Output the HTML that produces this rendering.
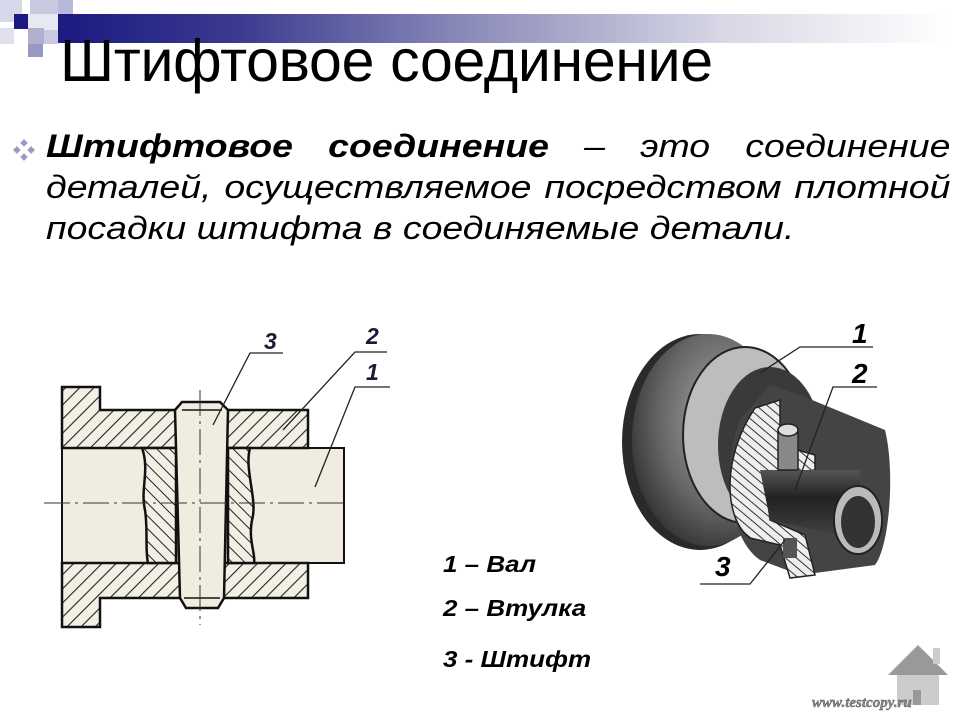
<!DOCTYPE html>
<html><head><meta charset="utf-8">
<style>
html,body{margin:0;padding:0;background:#fff;}
body{width:960px;height:720px;position:relative;overflow:hidden;font-family:"Liberation Sans","DejaVu Sans",sans-serif;}
.bar{position:absolute;left:58px;top:14px;width:890px;height:29px;background:linear-gradient(90deg,#1a1a80 0%,#3a3a90 20%,#8888b8 45%,#d8d8e6 75%,#fff 100%);}
.sq{position:absolute;}
.title{position:absolute;left:60px;top:27px;font-size:59px;color:#000;letter-spacing:-0.3px;white-space:nowrap;}
.body{position:absolute;left:46px;top:126px;width:773px;font-size:32px;font-style:italic;line-height:41px;color:#000;transform:scaleX(1.17);transform-origin:0 0;}
.body div{white-space:nowrap;}
.j{text-align:justify;text-align-last:justify;white-space:normal!important;}
.legend{position:absolute;left:443px;font-size:23px;font-weight:bold;font-style:italic;color:#000;white-space:nowrap;transform:scaleX(1.13);transform-origin:0 0;}
</style></head><body>
<div class="bar"></div>
<div class="sq" style="left:0;top:0;width:22px;height:22px;background:#d8d8ea"></div>
<div class="sq" style="left:30px;top:0;width:28px;height:14px;background:#c8c8e0"></div>
<div class="sq" style="left:58px;top:0;width:15px;height:14px;background:#b8b8d8"></div>
<div class="sq" style="left:14px;top:14px;width:14px;height:15px;background:#1a1a80"></div>
<div class="sq" style="left:28px;top:14px;width:30px;height:16px;background:#e8e8f2"></div>
<div class="sq" style="left:0;top:28px;width:14px;height:16px;background:#e0e0ee"></div>
<div class="sq" style="left:28px;top:28px;width:16px;height:16px;background:#b0b0d0"></div>
<div class="sq" style="left:44px;top:30px;width:14px;height:14px;background:#c8c8e0"></div>
<div class="sq" style="left:28px;top:44px;width:15px;height:13px;background:#9898c4"></div>
<div class="title">Штифтовое соединение</div>
<svg style="position:absolute;left:12px;top:138px" width="24" height="24" viewBox="0 0 22 22">
<g fill="#9c98c8"><polygon points="11,1 14.5,4.5 11,8 7.5,4.5"/><polygon points="4.5,7.5 8,11 4.5,14.5 1,11"/><polygon points="17.5,7.5 21,11 17.5,14.5 14,11"/><polygon points="11,14 14.5,17.5 11,21 7.5,17.5"/></g></svg>
<div class="body">
<div class="j"><b>Штифтовое соединение</b> – это соединение</div>
<div class="j">деталей, осуществляемое посредством плотной</div>
<div>посадки штифта в соединяемые детали.</div>
</div>

<svg style="position:absolute;left:0;top:0" width="960" height="720">
<defs>
<pattern id="h" width="10" height="10" patternUnits="userSpaceOnUse" patternTransform="rotate(45)"><rect width="10" height="10" fill="#f4efe4"/><line x1="0" y1="0" x2="0" y2="10" stroke="#222" stroke-width="2.2"/></pattern>
<pattern id="h2" width="9" height="9" patternUnits="userSpaceOnUse" patternTransform="rotate(-45)"><rect width="9" height="9" fill="#f4efe4"/><line x1="0" y1="0" x2="0" y2="9" stroke="#222" stroke-width="2"/></pattern>
<pattern id="h3" width="7" height="7" patternUnits="userSpaceOnUse" patternTransform="rotate(-50)"><rect width="7" height="7" fill="#eee"/><line x1="0" y1="0" x2="0" y2="7" stroke="#333" stroke-width="2"/></pattern>
<radialGradient id="g1" cx="0.6" cy="0.4" r="0.7"><stop offset="0" stop-color="#aaa"/><stop offset="0.6" stop-color="#666"/><stop offset="1" stop-color="#2a2a2a"/></radialGradient>
<linearGradient id="g2" x1="0" y1="0" x2="0" y2="1"><stop offset="0" stop-color="#555"/><stop offset="0.4" stop-color="#222"/><stop offset="1" stop-color="#444"/></linearGradient>
</defs>
<g stroke="#111" stroke-width="2.5">
<rect x="62" y="448" width="282" height="115" fill="#f1ece0" stroke-width="2"/>
<path d="M62,387 H100 V410 H308 V448 H62 Z" fill="url(#h)"/>
<path d="M62,563 H308 V598 H100 V627 H62 Z" fill="url(#h)"/>
<path d="M142,448 C150,470 140,490 145,510 C148,530 145,550 148,563 H176 V448 Z" fill="url(#h2)"/>
<path d="M228,448 H250 C244,470 258,500 252,520 C248,540 256,555 254,563 H228 Z" fill="url(#h2)"/>
<path d="M182,402 H220 L228,410 L224,598 L218,608 H186 L180,598 L175,410 Z" fill="#f1ece0"/>
</g>
<line x1="182" y1="410" x2="222" y2="410" stroke="#111" stroke-width="1.5"/>
<line x1="184" y1="598" x2="220" y2="598" stroke="#111" stroke-width="1.5"/>
<line x1="44" y1="503" x2="348" y2="503" stroke="#333" stroke-width="1" stroke-dasharray="26,5,3,5"/>
<line x1="200" y1="390" x2="200" y2="625" stroke="#333" stroke-width="1" stroke-dasharray="26,5,3,5"/>
<g stroke="#222" stroke-width="1.3" fill="none">
<polyline points="283,353 250,353 213,425"/>
<polyline points="387,352 355,352 283,430"/>
<polyline points="390,387 355,387 315,487"/>
</g>
<g font-family="Liberation Sans,sans-serif" font-weight="bold" font-style="italic" font-size="23" fill="#1a1a3a">
<text x="264" y="349">3</text><text x="366" y="344">2</text><text x="366" y="380">1</text>
</g>
<ellipse cx="700" cy="442" rx="78" ry="108" fill="#2a2a2a"/>
<ellipse cx="708" cy="440" rx="76" ry="106" fill="url(#g1)"/>
<ellipse cx="745" cy="435" rx="62" ry="88" fill="#bdbdbd" stroke="#222" stroke-width="2"/>
<ellipse cx="770" cy="445" rx="52" ry="78" fill="#3a3a3a"/>
<path d="M770,385 L800,395 L885,430 C895,470 890,545 875,565 L800,575 L760,560 C730,540 720,470 740,420 Z" fill="#444"/>
<path d="M755,408 L780,400 L780,445 L815,455 L815,470 L765,475 L770,520 L805,535 L815,575 L790,578 L780,545 L750,538 C725,520 720,460 755,408 Z" fill="url(#h3)" stroke="#222" stroke-width="1.5"/>
<path d="M760,470 L860,470 L860,540 L770,520 Z" fill="url(#g2)"/>
<ellipse cx="858" cy="520" rx="24" ry="34" fill="#bbb" stroke="#222" stroke-width="2"/>
<ellipse cx="858" cy="522" rx="17" ry="26" fill="#333"/>
<rect x="778" y="430" width="20" height="40" fill="#888" stroke="#222" stroke-width="1.5"/>
<ellipse cx="788" cy="430" rx="10" ry="6" fill="#ddd" stroke="#222" stroke-width="1.5"/>
<rect x="783" y="538" width="14" height="20" fill="#555"/>
<g stroke="#222" stroke-width="1.3" fill="none">
<polyline points="873,347 800,347 760,373"/>
<polyline points="877,387 833,387 795,490"/>
<polyline points="700,584 750,584 785,540"/>
</g>
<g font-family="Liberation Sans,sans-serif" font-weight="bold" font-style="italic" font-size="28" fill="#000">
<text x="852" y="343">1</text><text x="852" y="383">2</text><text x="715" y="576">3</text>
</g>
<polygon points="888,675 918,645 948,675" fill="#999"/>
<rect x="933" y="648" width="7" height="16" fill="#ccc"/>
<rect x="897" y="675" width="42" height="30" fill="#ccc"/>
<rect x="913" y="690" width="8" height="15" fill="#999"/>
<text x="812" y="707" font-family="Liberation Serif,serif" font-weight="bold" font-style="italic" font-size="15" fill="#888" stroke="#555" stroke-width="0.4">www.testcopy.ru</text>
</svg>
<div class="legend" style="top:551px">1 – Вал</div>
<div class="legend" style="top:595px">2 – Втулка</div>
<div class="legend" style="top:646px">3 - Штифт</div>
</body></html>
